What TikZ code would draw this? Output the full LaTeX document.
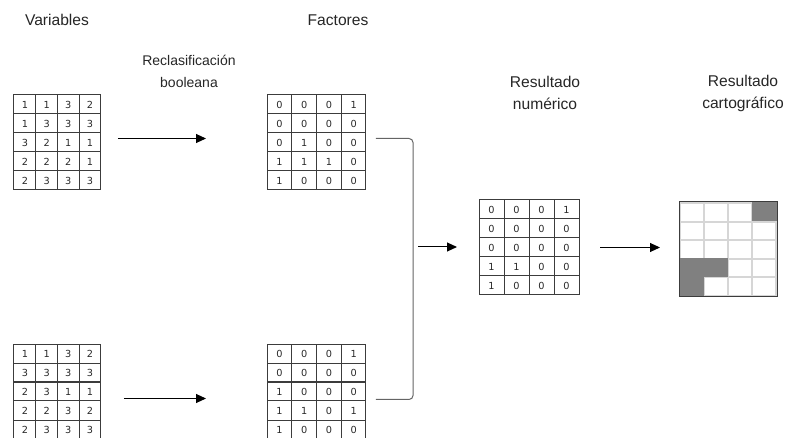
\documentclass[tikz,border=0pt]{standalone}
\usepackage{fontspec}
\setmainfont{Liberation Sans}
\newfontfamily\celdafont{DejaVu Sans}
\usetikzlibrary{matrix,arrows.meta,calc}

\definecolor{borde}{RGB}{60,60,60}
\definecolor{texto}{RGB}{40,40,40}
\definecolor{gris}{RGB}{128,128,128}
\definecolor{rejilla}{RGB}{214,214,214}
\definecolor{llavegris}{RGB}{100,100,100}

\tikzset{every picture/.style={line width=0.75pt}}
\tikzset{
  tabla/.style={matrix of nodes, anchor=north west, inner sep=0pt,
    column sep=-0.75pt, row sep=-0.75pt,
    nodes={draw=borde, inner sep=0pt, anchor=center, text height=5.4pt, text depth=0pt,
      minimum width=#1, minimum height=14.25pt,
      font=\celdafont\fontsize{7.3}{8}\selectfont, text=texto}},
  mapa/.style={matrix of nodes, anchor=north west, inner sep=0pt,
    column sep=-0.75pt, row sep=-0.75pt, nodes in empty cells,
    nodes={draw=rejilla, line width=1.1pt, inner sep=0pt, anchor=center,
      minimum width=17.65pt, minimum height=13.6pt}},
  lleno/.style={fill=gris, draw=gris},
  etiqueta/.style={font=\fontsize{11.7}{16.5}\selectfont, align=center, text=black!85},
  flecha/.style={draw=black, -{Triangle[length=7.5pt,width=6.75pt]}}
}

\begin{document}
\begin{tikzpicture}[x=0.75pt,y=0.75pt,yscale=-1,xscale=1]
\useasboundingbox (0,0) rectangle (786,438);

%Text labels
\node[etiqueta] (tvar) at (57,20) {Variables};
\node[etiqueta] (tfac) at (338,20) {Factores};
\node[etiqueta, font=\fontsize{10.5}{16.5}\selectfont] (treclas) at (189,71) {Reclasificación\\booleana};
\node[etiqueta] (tnum) at (545,93) {Resultado\\numérico};
\node[etiqueta] (tcarto) at (743,93) {Resultado\\cartográfico};

%Grid: variables
\matrix (var1) [tabla=16.3pt] at (13,94) {
1 & 1 & 3 & 2 \\
1 & 3 & 3 & 3 \\
3 & 2 & 1 & 1 \\
2 & 2 & 2 & 1 \\
2 & 3 & 3 & 3 \\
};
\matrix (var2) [tabla=16.3pt] at (13,343) {
1 & 1 & 3 & 2 \\
3 & 3 & 3 & 3 \\
2 & 3 & 1 & 1 \\
2 & 2 & 3 & 2 \\
2 & 3 & 3 & 3 \\
};

%Grid: factores
\matrix (fac1) [tabla=18.56pt] at (266,94) {
0 & 0 & 0 & 1 \\
0 & 0 & 0 & 0 \\
0 & 1 & 0 & 0 \\
1 & 1 & 1 & 0 \\
1 & 0 & 0 & 0 \\
};
\matrix (fac2) [tabla=18.56pt] at (266,343) {
0 & 0 & 0 & 1 \\
0 & 0 & 0 & 0 \\
1 & 0 & 0 & 0 \\
1 & 1 & 0 & 1 \\
1 & 0 & 0 & 0 \\
};

%Grid: resultado numerico
\matrix (res) [tabla=18.75pt] at (478,199) {
0 & 0 & 0 & 1 \\
0 & 0 & 0 & 0 \\
0 & 0 & 0 & 0 \\
1 & 1 & 0 & 0 \\
1 & 0 & 0 & 0 \\
};

%Grid: resultado cartografico
\matrix (carto) [mapa] at (679,202) {
 & & & |[lleno]| \\
 & & & \\
 & & & \\
|[lleno]| & |[lleno]| & & \\
|[lleno]| & & & \\
};
\draw[draw=borde] (carto.north west) rectangle (carto.south east);

%Straight Lines
\draw[flecha, shorten <=12pt, shorten >=45pt] ($(var1.east)+(0,-4)$) -- ($(fac1.west)+(0,-4)$);
\draw[flecha, shorten <=16.5pt, shorten >=45pt] ($(var2.east)+(0,7)$) -- ($(fac2.west)+(0,7)$);

%Bracket
\coordinate (llave) at (413,247);
\draw[draw=llavegris, rounded corners=3pt, shorten <=6.75pt, shorten >=6.75pt]
  ($(fac1.east)+(0,-4)$) -- ($(fac1.east -| llave)+(0,-4)$)
  -- ($(fac2.east -| llave)+(0,8)$) -- ($(fac2.east)+(0,8)$);

\draw[flecha, shorten <=3.75pt, shorten >=15.75pt] (llave) -- (llave -| res.west);
\draw[flecha, shorten <=15pt, shorten >=14.25pt] (res.east) -- (res.east -| carto.west);

\end{tikzpicture}
\end{document}
